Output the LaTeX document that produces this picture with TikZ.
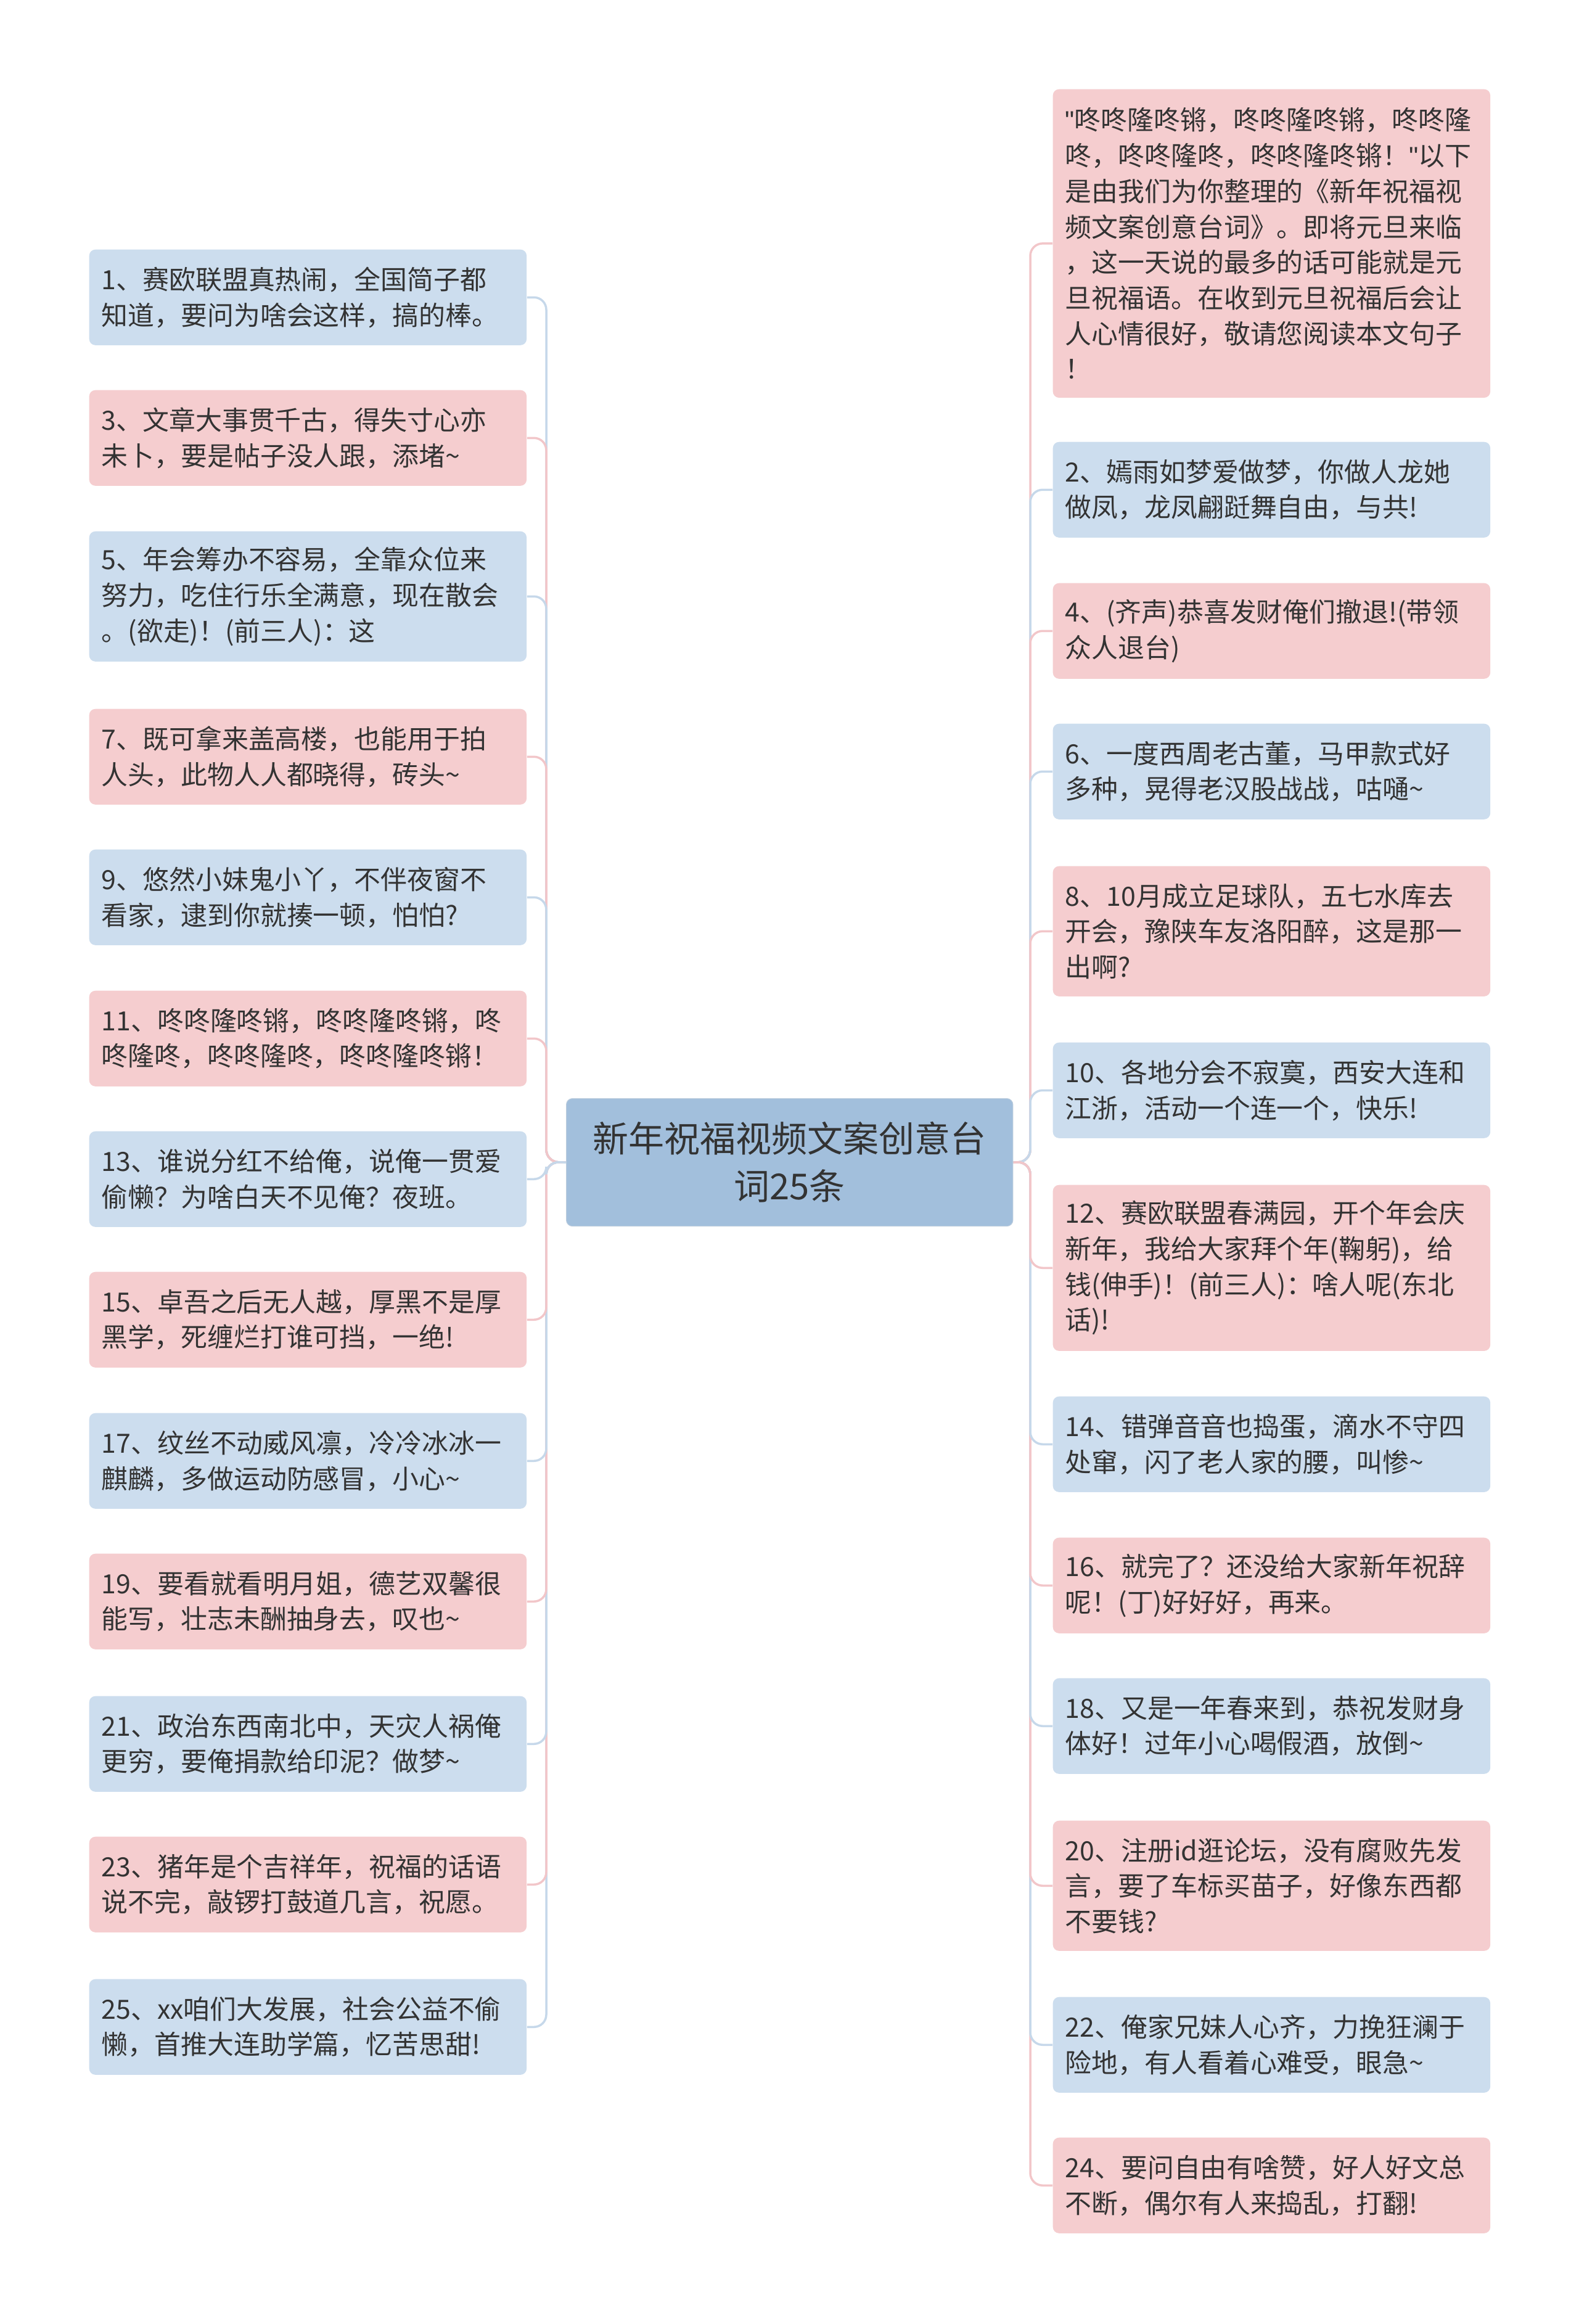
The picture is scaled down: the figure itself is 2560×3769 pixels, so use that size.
\documentclass[tikz,border=0pt]{standalone}
\usepackage{fontspec}
\setmainfont{Noto Sans CJK SC}
\newfontfamily\latinq{Liberation Sans}
\usetikzlibrary{backgrounds}
\definecolor{nblue}{HTML}{CCDDEE}
\definecolor{npink}{HTML}{F5CDCF}
\definecolor{cblue}{HTML}{A2BFDC}
\definecolor{lblue}{HTML}{C6D8EA}
\definecolor{lpink}{HTML}{F2C6C9}
\definecolor{txt}{HTML}{333333}
\tikzset{
  leaf/.style={anchor=north west, rounded corners=0.1cm, text width=6.69cm,
    inner xsep=0.2cm, inner ysep=0pt, align=left, minimum width=7.09cm,
    font=\fontsize{12.2pt}{16.4pt}\selectfont, text=txt},
  bleaf/.style={leaf, fill=nblue},
  pleaf/.style={leaf, fill=npink},
  rootbox/.style={anchor=north west, rounded corners=0.1cm, fill=cblue, draw=cblue!90!black!60,
    line width=0.01cm, align=center, minimum width=7.24cm, minimum height=2.07cm,
    font=\fontsize{16.5pt}{21.9pt}\selectfont, text=txt},
  link/.style={line width=0.035cm, rounded corners=0.2cm},
  blink/.style={link, draw=lblue},
  plink/.style={link, draw=lpink},
}
\newcommand{\qq}{{\latinq"}}
\begin{document}
\begin{tikzpicture}[x=0.01cm, y=-0.01cm]
\useasboundingbox (0,0) rectangle (2560,3769);

% center
\node[rootbox] (c) at (918,1781) {新年祝福视频文案创意台\\词25条};
\coordinate (lt) at (886,1884.5);
\coordinate (rt) at (1671,1884.5);

% left nodes
\node[bleaf, minimum height=1.55cm] (l1) at (144,404) {1、赛欧联盟真热闹，全国简子都\\知道，要问为啥会这样，搞的棒。};
\node[pleaf, minimum height=1.55cm] (l3) at (144,632) {3、文章大事贯千古，得失寸心亦\\未卜，要是帖子没人跟，添堵\char`\~};
\node[bleaf, minimum height=2.11cm] (l5) at (144,861) {5、年会筹办不容易，全靠众位来\\努力，吃住行乐全满意，现在散会\\。(欲走)！(前三人)：这};
\node[pleaf, minimum height=1.55cm] (l7) at (144,1149) {7、既可拿来盖高楼，也能用于拍\\人头，此物人人都晓得，砖头\char`\~};
\node[bleaf, minimum height=1.55cm] (l9) at (144,1377) {9、悠然小妹鬼小丫，不伴夜窗不\\看家，逮到你就揍一顿，怕怕?};
\node[pleaf, minimum height=1.55cm] (l11) at (144,1606) {11、咚咚隆咚锵，咚咚隆咚锵，咚\\咚隆咚，咚咚隆咚，咚咚隆咚锵！};
\node[bleaf, minimum height=1.55cm] (l13) at (144,1834) {13、谁说分红不给俺，说俺一贯爱\\偷懒？为啥白天不见俺？夜班。};
\node[pleaf, minimum height=1.55cm] (l15) at (144,2062) {15、卓吾之后无人越，厚黑不是厚\\黑学，死缠烂打谁可挡，一绝!};
\node[bleaf, minimum height=1.55cm] (l17) at (144,2291) {17、纹丝不动威风凛，冷冷冰冰一\\麒麟，多做运动防感冒，小心\char`\~};
\node[pleaf, minimum height=1.55cm] (l19) at (144,2519) {19、要看就看明月姐，德艺双馨很\\能写，壮志未酬抽身去，叹也\char`\~};
\node[bleaf, minimum height=1.55cm] (l21) at (144,2750) {21、政治东西南北中，天灾人祸俺\\更穷，要俺捐款给印泥？做梦\char`\~};
\node[pleaf, minimum height=1.55cm] (l23) at (144,2978) {23、猪年是个吉祥年，祝福的话语\\说不完，敲锣打鼓道几言，祝愿。};
\node[bleaf, minimum height=1.55cm] (l25) at (144,3209) {25、xx咱们大发展，社会公益不偷\\懒，首推大连助学篇，忆苦思甜!};

% right nodes
\node[pleaf, minimum height=5.00cm] (r0) at (1707,144) {\qq 咚咚隆咚锵，咚咚隆咚锵，咚咚隆\\咚，咚咚隆咚，咚咚隆咚锵！\qq 以下\\是由我们为你整理的《新年祝福视\\频文案创意台词》。即将元旦来临\\，这一天说的最多的话可能就是元\\旦祝福语。在收到元旦祝福后会让\\人心情很好，敬请您阅读本文句子\\！};
\node[bleaf, minimum height=1.55cm] (r2) at (1707,716) {2、嫣雨如梦爱做梦，你做人龙她\\做凤，龙凤翩跹舞自由，与共!};
\node[pleaf, minimum height=1.55cm] (r4) at (1707,945) {4、(齐声)恭喜发财俺们撤退!(带领\\众人退台)};
\node[bleaf, minimum height=1.55cm] (r6) at (1707,1173) {6、一度西周老古董，马甲款式好\\多种，晃得老汉股战战，咕嗵\char`\~};
\node[pleaf, minimum height=2.11cm] (r8) at (1707,1404) {8、10月成立足球队，五七水库去\\开会，豫陕车友洛阳醉，这是那一\\出啊?};
\node[bleaf, minimum height=1.55cm] (r10) at (1707,1690) {10、各地分会不寂寞，西安大连和\\江浙，活动一个连一个，快乐!};
\node[pleaf, minimum height=2.69cm] (r12) at (1707,1921) {12、赛欧联盟春满园，开个年会庆\\新年，我给大家拜个年(鞠躬)，给\\钱(伸手)！(前三人)：啥人呢(东北\\话)!};
\node[bleaf, minimum height=1.55cm] (r14) at (1707,2264) {14、错弹音音也捣蛋，滴水不守四\\处窜，闪了老人家的腰，叫惨\char`\~};
\node[pleaf, minimum height=1.55cm] (r16) at (1707,2493) {16、就完了？还没给大家新年祝辞\\呢！(丁)好好好，再来。};
\node[bleaf, minimum height=1.55cm] (r18) at (1707,2721) {18、又是一年春来到，恭祝发财身\\体好！过年小心喝假酒，放倒\char`\~};
\node[pleaf, minimum height=2.11cm] (r20) at (1707,2952) {20、注册id逛论坛，没有腐败先发\\言，要了车标买苗子，好像东西都\\不要钱?};
\node[bleaf, minimum height=1.55cm] (r22) at (1707,3238) {22、俺家兄妹人心齐，力挽狂澜于\\险地，有人看着心难受，眼急\char`\~};
\node[pleaf, minimum height=1.55cm] (r24) at (1707,3466) {24、要问自由有啥赞，好人好文总\\不断，偶尔有人来捣乱，打翻!};

% connectors (behind nodes)
\begin{pgfonlayer}{background}
\fill[white] (0,0) rectangle (2560,3769);
% left, above centre: outermost first
\draw[blink] (c.west) -- (lt) |- (l1.east);
\draw[plink] (c.west) -- (lt) |- (l3.east);
\draw[blink] (c.west) -- (lt) |- (l5.east);
\draw[plink] (c.west) -- (lt) |- (l7.east);
\draw[blink] (c.west) -- (lt) |- (l9.east);
\draw[plink] (c.west) -- (lt) |- (l11.east);
% left, below centre
\draw[blink] (c.west) -- (lt) |- (l25.east);
\draw[plink] (c.west) -- (lt) |- (l23.east);
\draw[blink] (c.west) -- (lt) |- (l21.east);
\draw[plink] (c.west) -- (lt) |- (l19.east);
\draw[blink] (c.west) -- (lt) |- (l17.east);
\draw[plink] (c.west) -- (lt) |- (l15.east);
\draw[blink] (c.west) -- (lt) |- (l13.east);
% right, above centre
\draw[plink] (c.east) -- (rt) |- (r0.west);
\draw[blink] (c.east) -- (rt) |- (r2.west);
\draw[plink] (c.east) -- (rt) |- (r4.west);
\draw[blink] (c.east) -- (rt) |- (r6.west);
\draw[plink] (c.east) -- (rt) |- (r8.west);
\draw[blink] (c.east) -- (rt) |- (r10.west);
% right, below centre
\draw[plink] (c.east) -- (rt) |- (r24.west);
\draw[blink] (c.east) -- (rt) |- (r22.west);
\draw[plink] (c.east) -- (rt) |- (r20.west);
\draw[blink] (c.east) -- (rt) |- (r18.west);
\draw[plink] (c.east) -- (rt) |- (r16.west);
\draw[blink] (c.east) -- (rt) |- (r14.west);
\draw[plink] (c.east) -- (rt) |- (r12.west);
\end{pgfonlayer}
\end{tikzpicture}
\end{document}
